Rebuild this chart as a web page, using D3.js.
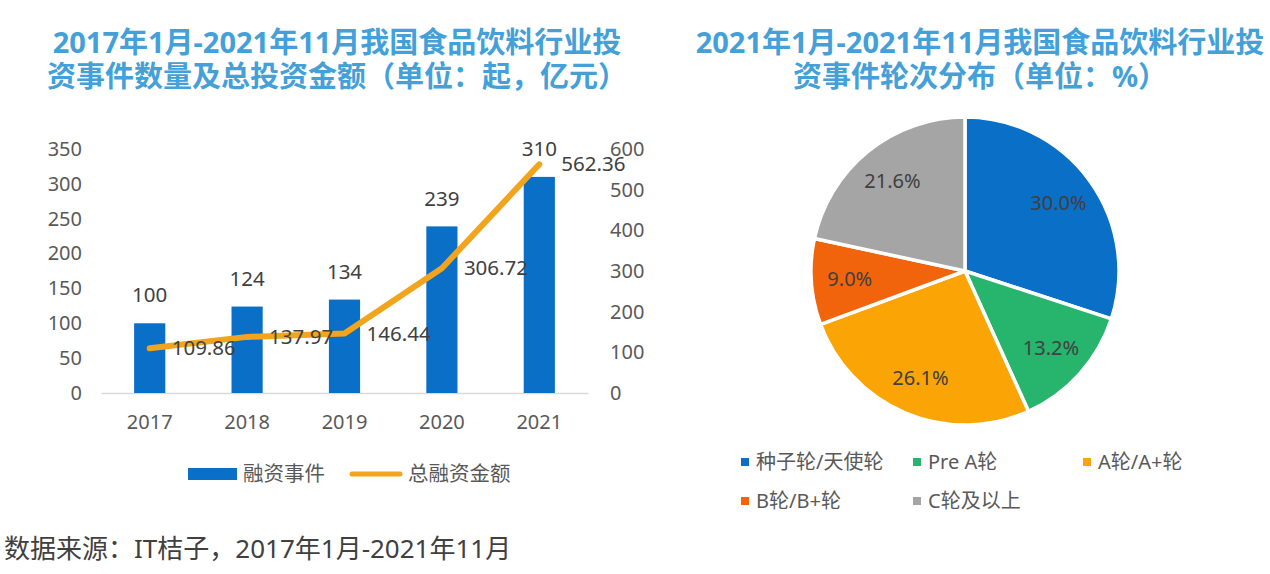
<!DOCTYPE html>
<html>
<head>
<meta charset="utf-8">
<script src="https://cdn.jsdelivr.net/npm/d3@7"></script>
<style>
  html, body { margin: 0; padding: 0; background: #ffffff; }
  svg { display: block; }
  text { font-family: "Noto Sans", "Noto Sans CJK SC", sans-serif; }
</style>
</head>
<body>
<svg id="chart" width="1270" height="574"></svg>
<script>
// ---------------- data ----------------
const years = ["2017", "2018", "2019", "2020", "2021"];
const eventCounts = [100, 124, 134, 239, 310];
const totalAmounts = [109.86, 137.97, 146.44, 306.72, 562.36];
const leftTicks = [0, 50, 100, 150, 200, 250, 300, 350];
const rightTicks = [0, 100, 200, 300, 400, 500, 600];
const barSeriesName = "融资事件";
const lineSeriesName = "总融资金额";

const roundNames = ["种子轮/天使轮", "Pre A轮", "A轮/A+轮", "B轮/B+轮", "C轮及以上"];
const roundShares = [30.0, 13.2, 26.1, 9.0, 21.6];

const leftTitle = ["2017年1月-2021年11月我国食品饮料行业投", "资事件数量及总投资金额（单位：起，亿元）"];
const rightTitle = ["2021年1月-2021年11月我国食品饮料行业投", "资事件轮次分布（单位：%）"];
const sourceText = "数据来源：IT桔子，2017年1月-2021年11月";

// ---------------- styles ----------------
const barColor = "#0A6FC6";
const lineColor = "#F2A41C";
const pieColors = ["#0A6FC6", "#27B46C", "#FBA405", "#F2640C", "#A5A5A5"];
const titleColor = "#43A0D9";
const tickColor = "#595959";
const labelColor = "#404040";

const svg = d3.select("#chart");

// ---------------- titles ----------------
function drawTitle(lines, cx) {
  const t = svg.append("text")
    .attr("text-anchor", "middle")
    .attr("fill", titleColor)
    .attr("font-weight", "bold")
    .attr("font-size", 29);
  lines.forEach((l, i) => {
    t.append("tspan").attr("x", cx).attr("y", 53 + i * 34).text(l);
  });
}
drawTitle(leftTitle, 337);
drawTitle(rightTitle, 980);

// ---------------- combo chart ----------------
const plotTop = 149, plotBottom = 393;
const x = d3.scaleBand().domain(years).range([101, 588]).paddingInner(0.68).paddingOuter(0.34);
const yL = d3.scaleLinear().domain([0, 350]).range([plotBottom, plotTop]);
const yR = d3.scaleLinear().domain([0, 600]).range([plotBottom, plotTop]);

// left axis
const axL = svg.append("g").attr("transform", "translate(88,0)")
  .call(d3.axisLeft(yL).tickValues(leftTicks).tickSize(0).tickPadding(6));
axL.select(".domain").remove();
axL.selectAll("text").attr("fill", tickColor).attr("font-size", 20).attr("font-family", null);

// right axis
const axR = svg.append("g").attr("transform", "translate(604,0)")
  .call(d3.axisRight(yR).tickValues(rightTicks).tickSize(0).tickPadding(6));
axR.select(".domain").remove();
axR.selectAll("text").attr("fill", tickColor).attr("font-size", 20).attr("font-family", null);

// bottom axis
const axB = svg.append("g").attr("transform", `translate(0,${plotBottom})`)
  .call(d3.axisBottom(x).tickSize(0).tickPadding(22));
axB.select(".domain").attr("stroke", "#D9D9D9").attr("stroke-width", 1.5);
axB.selectAll("text").attr("fill", tickColor).attr("font-size", 20).attr("font-family", null);

// bars
svg.append("g").selectAll("rect").data(years).join("rect")
  .attr("x", d => x(d))
  .attr("width", x.bandwidth())
  .attr("y", (d, i) => yL(eventCounts[i]))
  .attr("height", (d, i) => plotBottom - yL(eventCounts[i]))
  .attr("fill", barColor);

// bar labels
svg.append("g").selectAll("text").data(years).join("text")
  .attr("x", d => x(d) + x.bandwidth() / 2)
  .attr("y", (d, i) => yL(eventCounts[i]) - 28)
  .attr("dy", "0.35em")
  .attr("text-anchor", "middle")
  .attr("font-size", 20.5)
  .attr("fill", labelColor)
  .text((d, i) => eventCounts[i]);

// line
const line = d3.line()
  .x((d, i) => x(years[i]) + x.bandwidth() / 2)
  .y(d => yR(d));
svg.append("path")
  .datum(totalAmounts)
  .attr("d", line)
  .attr("fill", "none")
  .attr("stroke", lineColor)
  .attr("stroke-width", 6)
  .attr("stroke-linecap", "round")
  .attr("stroke-linejoin", "round");

// line labels
svg.append("g").selectAll("text").data(totalAmounts).join("text")
  .attr("x", (d, i) => x(years[i]) + x.bandwidth() / 2 + 22)
  .attr("y", d => yR(d))
  .attr("dy", "0.35em")
  .attr("font-size", 20.5)
  .attr("fill", labelColor)
  .text(d => d.toFixed(2));

// left legend
const lg = svg.append("g");
lg.append("rect").attr("x", 188).attr("y", 468).attr("width", 49).attr("height", 12).attr("fill", barColor);
lg.append("text").attr("x", 243).attr("y", 474).attr("dy", "0.35em").attr("font-size", 20.5).attr("fill", tickColor).text(barSeriesName);
lg.append("line").attr("x1", 352).attr("x2", 400).attr("y1", 474).attr("y2", 474)
  .attr("stroke", lineColor).attr("stroke-width", 5).attr("stroke-linecap", "round");
lg.append("text").attr("x", 408).attr("y", 474).attr("dy", "0.35em").attr("font-size", 20.5).attr("fill", tickColor).text(lineSeriesName);

// ---------------- pie ----------------
const cx = 965, cy = 271, R = 154;
const pie = d3.pie().sort(null).value(d => d)(roundShares);
const arc = d3.arc().innerRadius(0).outerRadius(R);
const labelArc = d3.arc().innerRadius(R * 0.75).outerRadius(R * 0.75);
const pg = svg.append("g").attr("transform", `translate(${cx},${cy})`);
pg.selectAll("path").data(pie).join("path")
  .attr("d", arc)
  .attr("fill", (d, i) => pieColors[i])
  .attr("stroke", "#ffffff")
  .attr("stroke-width", 3.5)
  .attr("stroke-linejoin", "round");
pg.selectAll("text").data(pie).join("text")
  .attr("transform", d => `translate(${labelArc.centroid(d)})`)
  .attr("text-anchor", "middle")
  .attr("dy", "0.35em")
  .attr("font-size", 20)
  .attr("fill", labelColor)
  .text(d => d.data.toFixed(1) + "%");

// right legend
const legCols = [741, 913, 1083];
const legRows = [462, 501];
const rl = svg.append("g");
roundNames.forEach((name, i) => {
  const col = i % 3, row = Math.floor(i / 3);
  const lx = legCols[col], ly = legRows[row];
  rl.append("rect").attr("x", lx).attr("y", ly - 4).attr("width", 8).attr("height", 8).attr("fill", pieColors[i]);
  rl.append("text").attr("x", lx + 15).attr("y", ly).attr("dy", "0.35em")
    .attr("font-size", 20).attr("fill", tickColor).text(name);
});

// ---------------- source ----------------
svg.append("text").attr("x", 4).attr("y", 549).attr("dy", "0.35em")
  .attr("font-size", 26).attr("fill", "#404040").text(sourceText);
</script>
</body>
</html>
